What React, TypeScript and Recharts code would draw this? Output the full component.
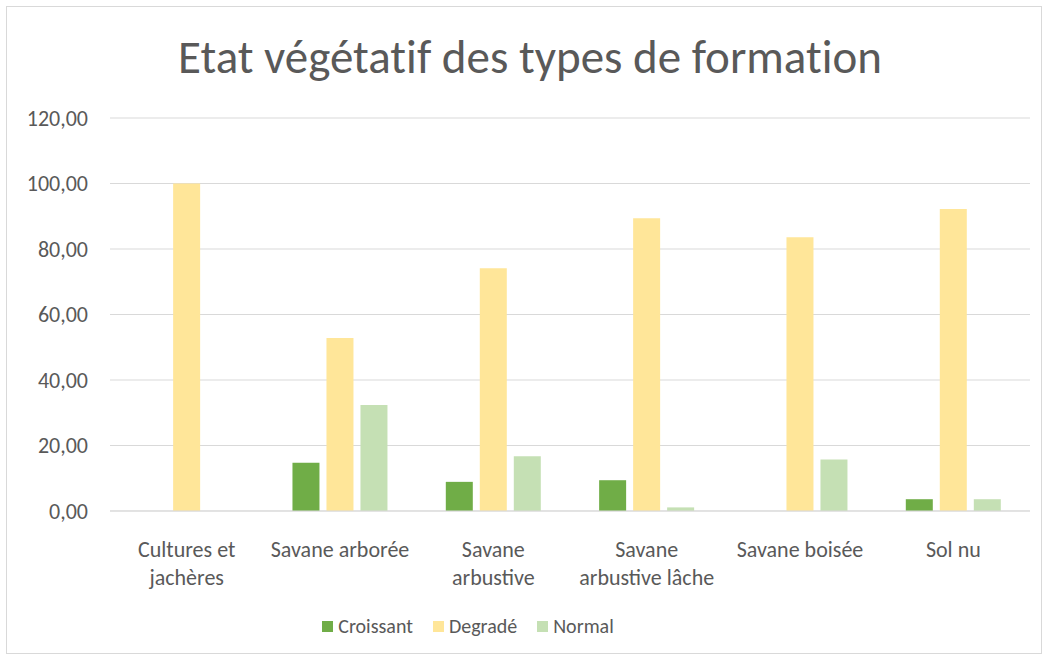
import { BarChart, Bar, XAxis, YAxis, CartesianGrid, Legend } from "recharts";

const categories = [
  "Cultures et\njachères",
  "Savane arborée",
  "Savane\narbustive",
  "Savane\narbustive lâche",
  "Savane boisée",
  "Sol nu",
];
const croissant = [0, 14.7, 8.9, 9.4, 0, 3.6];
const degrade = [100, 52.8, 74.1, 89.4, 83.6, 92.2];
const normal = [0, 32.4, 16.7, 1.1, 15.7, 3.6];
const yTicks = [0, 20, 40, 60, 80, 100, 120];

const seriesNames = ["Croissant", "Degradé", "Normal"];
const seriesColors = ["#70ad47", "#ffe699", "#c5e0b4"];

const data = categories.map((c, i) => ({
  name: c,
  Croissant: croissant[i],
  "Degradé": degrade[i],
  Normal: normal[i],
}));

const FONT = "Carlito, Calibri, 'Open Sans', sans-serif";
const TEXT = "#595959";

const CategoryTick = (props: any) => {
  const { x, y, payload } = props;
  const lines = String(payload.value).split("\n");
  return (
    <g transform={`translate(${x},${y})`}>
      {lines.map((l: string, i: number) => (
        <text
          key={i}
          x={0}
          y={38 + i * 28}
          textAnchor="middle"
          fill={TEXT}
          fontSize={22}
          fontFamily={FONT}
        >
          {l}
        </text>
      ))}
    </g>
  );
};

const LegendContent = () => (
  <div
    style={{
      display: "flex",
      justifyContent: "center",
      alignItems: "center",
      height: 40,
      paddingRight: 104,
      fontFamily: FONT,
      fontSize: 20,
      color: TEXT,
    }}
  >
    {seriesNames.map((n, i) => (
      <span key={n} style={{ display: "flex", alignItems: "center", margin: "0 10px" }}>
        <span
          style={{
            width: 11,
            height: 11,
            background: seriesColors[i],
            display: "inline-block",
            marginRight: 5,
          }}
        />
        {n}
      </span>
    ))}
  </div>
);

export default function App() {
  return (
    <div
      style={{
        position: "absolute",
        left: 0,
        top: 0,
        width: 1048,
        height: 660,
        background: "#fff",
      }}
    >
      <div
        style={{
          position: "absolute",
          left: 6,
          top: 6,
          width: 1034,
          height: 646,
          border: "1px solid #d9d9d9",
        }}
      />
      <div
        style={{
          position: "absolute",
          left: 0,
          top: 28,
          width: 1060,
          textAlign: "center",
          fontFamily: FONT,
          fontSize: 47,
          fontVariantLigatures: "none",
          color: TEXT,
        }}
      >
        Etat végétatif des types de formation
      </div>
      <BarChart
        width={1048}
        height={660}
        data={data}
        margin={{ top: 118, right: 18, left: 10, bottom: 14 }}
        barGap={7}
        barCategoryGap="19%"
      >
        <CartesianGrid vertical={false} stroke="#d9d9d9" />
        <XAxis
          dataKey="name"
          axisLine={{ stroke: "#d9d9d9" }}
          tickLine={false}
          height={95}
          interval={0}
          tick={<CategoryTick />}
        />
        <YAxis
          width={100}
          domain={[0, 120]}
          ticks={yTicks}
          axisLine={false}
          tickLine={false}
          tickFormatter={(v: number) => v.toFixed(2).replace(".", ",")}
          tick={{ fill: TEXT, fontSize: 22, fontFamily: FONT }}
          tickMargin={16}
        />
        <Legend verticalAlign="bottom" content={<LegendContent />} />
        {seriesNames.map((n, i) => (
          <Bar key={n} dataKey={n} fill={seriesColors[i]} isAnimationActive={false} />
        ))}
      </BarChart>
    </div>
  );
}
